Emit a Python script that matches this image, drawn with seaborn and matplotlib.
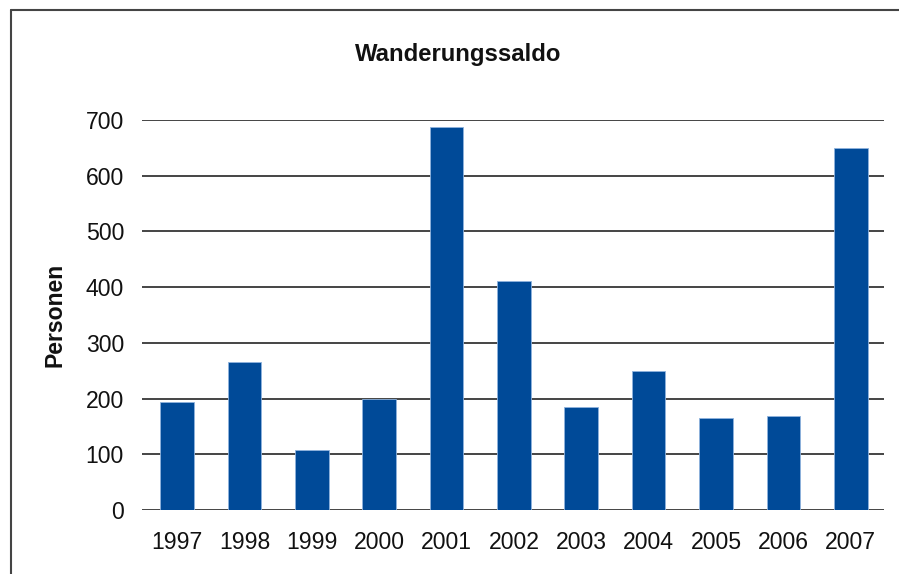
import pandas as pd
import seaborn as sns
import matplotlib.pyplot as plt
from matplotlib.lines import Line2D

# Data
years = ["1997", "1998", "1999", "2000", "2001", "2002", "2003", "2004", "2005", "2006", "2007"]
saldo = [194, 266, 108, 199, 688, 411, 185, 250, 165, 169, 650]

df = pd.DataFrame({"year": years, "saldo": saldo})

sns.set_style("white")
plt.rcParams["font.family"] = ["Liberation Sans", "DejaVu Sans"]

fig = plt.figure(figsize=(8.99, 5.74), dpi=100)
ax = fig.add_axes([0.158, 0.1115, 0.825, 0.6795])

ax.set_axisbelow(True)
for v in range(0, 800, 100):
    ax.axhline(v, color="#444444", lw=1.4, zorder=0)

sns.barplot(x="year", y="saldo", data=df, color="#004a98", width=0.5,
            saturation=1, edgecolor="#8fb3dd", linewidth=0.6, ax=ax, zorder=2)

ax.set_xlim(-0.52, 10.49)
ax.set_ylim(0, 700)
ax.set_yticks(range(0, 800, 100))
ax.tick_params(axis="both", length=0, labelsize=16.6, colors="#111111")
ax.tick_params(axis="y", pad=13)
ax.tick_params(axis="x", pad=15)
sns.despine(ax=ax, left=True, bottom=True)

ax.set_xlabel(None)
ax.set_ylabel("Personen", fontsize=16.6, fontweight="bold", labelpad=14, color="#111111")
fig.text(458 / 899, 1 - 55 / 574, "Wanderungssaldo", fontsize=17.2, fontweight="bold",
         ha="center", va="center", color="#111111")

# Frame around chart (top and left edges)
fig.add_artist(Line2D([11 / 899, 11 / 899], [0, 1 - 10 / 574], transform=fig.transFigure,
                      color="#444444", lw=1.5))
fig.add_artist(Line2D([11 / 899, 1], [1 - 10 / 574, 1 - 10 / 574], transform=fig.transFigure,
                      color="#444444", lw=1.5))

plt.savefig("out.png", dpi=100)
